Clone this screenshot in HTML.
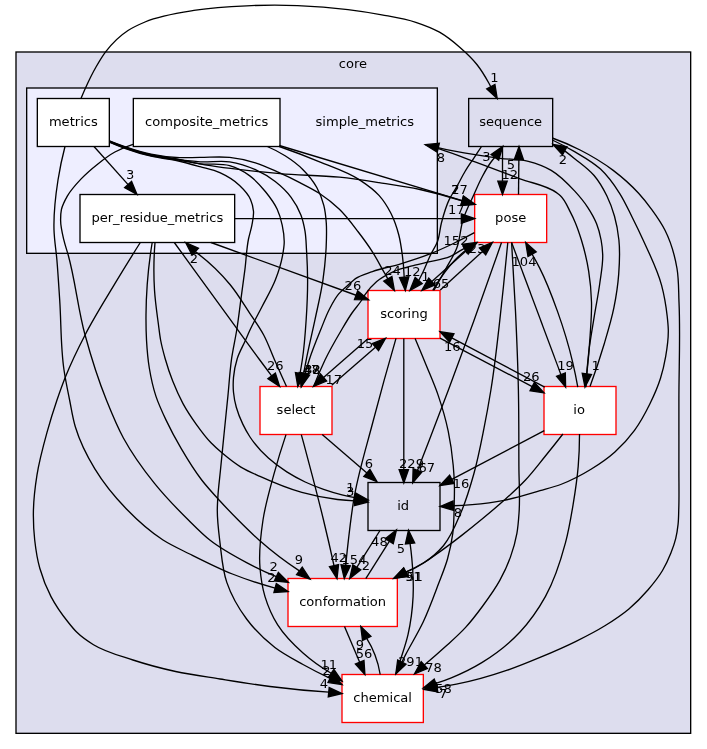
<!DOCTYPE html>
<html><head><meta charset="utf-8"><title>core/simple_metrics</title>
<style>html,body{margin:0;padding:0;background:#fff}svg{display:block}text{font-family:"DejaVu Sans", "Liberation Sans", sans-serif;font-size:13.07px;fill:#000}svg{will-change:transform}</style>
</head><body>
<svg width="707" height="749" viewBox="0 0 707 749">
<rect width="707" height="749" fill="#fff"/>
<rect x="16" y="52" width="674.67" height="681.33" fill="#ddddee" stroke="#000" stroke-width="1.333"/>
<text x="353" y="68" text-anchor="middle">core</text>
<rect x="26.67" y="88" width="410.67" height="165.33" fill="#eeeeff" stroke="#000" stroke-width="1.333"/>
<text x="364.8" y="126" text-anchor="middle">simple_metrics</text>

<rect x="37.33" y="98.5" width="72.00" height="48.00" fill="white" stroke="black" stroke-width="1.333"/>
<text x="73.33" y="126.00" text-anchor="middle">metrics</text>
<rect x="133.33" y="98.5" width="146.67" height="48.00" fill="white" stroke="black" stroke-width="1.333"/>
<text x="206.67" y="126.00" text-anchor="middle">composite_metrics</text>
<rect x="80" y="194.5" width="154.67" height="48.00" fill="white" stroke="black" stroke-width="1.333"/>
<text x="157.33" y="222.00" text-anchor="middle">per_residue_metrics</text>
<rect x="468.67" y="98.5" width="84.00" height="48.00" fill="none" stroke="black" stroke-width="1.333"/>
<text x="510.67" y="126.00" text-anchor="middle">sequence</text>
<rect x="474.67" y="194.5" width="72.00" height="48.00" fill="white" stroke="red" stroke-width="1.333"/>
<text x="510.67" y="222.00" text-anchor="middle">pose</text>
<rect x="368" y="290.5" width="72.00" height="48.00" fill="white" stroke="red" stroke-width="1.333"/>
<text x="404.00" y="318.00" text-anchor="middle">scoring</text>
<rect x="260" y="386.5" width="72.00" height="48.00" fill="white" stroke="red" stroke-width="1.333"/>
<text x="296.00" y="414.00" text-anchor="middle">select</text>
<rect x="544" y="386.5" width="72.00" height="48.00" fill="white" stroke="red" stroke-width="1.333"/>
<text x="579.10" y="414.00" text-anchor="middle">io</text>
<rect x="368" y="482.5" width="72.00" height="48.00" fill="none" stroke="black" stroke-width="1.333"/>
<text x="403.10" y="510.00" text-anchor="middle">id</text>
<rect x="288" y="578.5" width="109.33" height="48.00" fill="white" stroke="red" stroke-width="1.333"/>
<text x="342.66" y="606.00" text-anchor="middle">conformation</text>
<rect x="342" y="674.5" width="81.33" height="48.00" fill="white" stroke="red" stroke-width="1.333"/>
<text x="382.66" y="702.00" text-anchor="middle">chemical</text>
<g fill="none" stroke="#000" stroke-width="1.333">
<path d="M81.00,98.50C82.43,94.97 83.93,91.47 85.50,88.00C88.72,80.87 92.11,73.78 96.00,67.00C99.03,61.73 102.11,56.38 105.80,51.60C112.00,43.58 119.53,36.01 128.00,30.50C133.26,27.08 139.20,24.46 145.00,22.00C160.92,15.25 178.67,12.90 195.80,10.20C212.58,7.55 229.70,6.57 246.70,5.80C263.64,5.04 280.66,4.96 297.60,5.60C314.43,6.24 331.29,7.53 348.00,9.60C359.31,11.00 370.60,12.71 381.80,14.80C393.20,16.93 404.83,18.66 415.80,22.30C423.90,24.98 432.12,27.99 439.50,32.20C446.85,36.40 453.59,41.91 460.00,47.50C466.01,52.74 471.95,58.28 476.90,64.50C481.44,70.20 485.22,76.61 488.80,83.00C489.49,84.22 490.16,85.46 490.82,86.70"/>
<path d="M94.00,146.50L128.11,184.57"/>
<path d="M140.30,242.50C131.68,256.14 123.21,269.87 114.90,283.70C104.77,300.56 94.23,317.24 85.20,334.70C78.05,348.51 71.17,362.56 65.40,377.00C62.37,384.57 59.64,392.28 57.00,400.00C53.35,410.69 50.01,421.51 47.00,432.40C43.13,446.42 39.30,460.56 37.00,474.90C35.06,487.01 33.61,499.34 33.40,511.60C33.24,521.05 33.65,530.60 34.70,540.00C35.77,549.50 37.21,559.12 39.80,568.30C42.54,578.02 46.31,587.67 51.00,596.60C55.71,605.57 61.65,614.05 68.00,622.00C70.74,625.43 73.48,628.93 76.60,632.00C81.59,636.92 87.55,641.03 93.50,644.70C105.41,652.06 119.61,655.60 133.00,660.00C146.95,664.59 161.25,668.35 175.60,671.50C190.24,674.71 205.18,676.63 220.00,679.00C236.64,681.66 253.28,684.40 270.00,686.50C289.51,688.95 309.12,690.86 328.73,692.21"/>
<path d="M65.00,146.50C62.10,157.51 59.76,168.75 58.00,180.00C55.43,196.49 53.50,213.35 54.00,230.00C54.30,240.01 56.05,249.99 56.90,260.00C58.03,273.32 58.81,286.66 59.70,300.00C61.26,323.33 60.58,346.91 64.00,370.00C65.49,380.05 67.60,390.03 69.60,400.00C71.39,408.95 72.68,418.11 75.30,426.80C79.77,441.63 86.95,455.98 95.00,469.20C103.68,483.46 114.56,496.79 126.20,508.80C137.34,520.29 149.52,531.40 163.00,540.00C171.43,545.37 180.72,549.49 189.70,554.00C203.74,561.05 217.81,568.23 232.40,574.00C246.32,579.50 260.66,584.22 275.12,588.06"/>
<path d="M133.00,144.30C126.77,146.23 120.61,148.85 114.90,152.00C108.87,155.32 103.32,159.63 97.90,163.90C91.94,168.60 86.10,173.59 80.90,179.10C75.94,184.36 70.85,189.84 67.30,196.10C64.88,200.36 62.43,204.93 61.40,209.70C60.69,212.99 60.60,216.51 60.60,219.90C60.61,226.71 62.34,233.54 63.90,240.20C65.07,245.19 66.83,250.05 68.20,255.00C75.46,281.15 77.85,308.55 85.00,334.70C91.03,356.76 97.88,378.77 106.40,400.00C111.56,412.86 116.80,425.86 123.40,438.00C132.13,454.05 143.03,469.15 154.50,483.40C164.90,496.32 176.56,508.33 188.40,520.00C195.35,526.85 202.19,533.96 209.80,540.00C221.02,548.90 233.91,555.84 246.60,562.60C256.27,567.75 266.24,572.47 276.35,576.69"/>
<path d="M152.20,242.50C148.26,266.37 146.17,290.70 146.00,314.90C145.94,323.26 146.02,331.65 146.50,340.00C147.04,349.36 147.77,358.77 149.30,368.00C150.87,377.47 152.89,387.00 155.90,396.10C158.65,404.42 162.45,412.45 166.20,420.40C170.71,429.95 175.76,439.28 181.10,448.40C187.45,459.24 194.03,470.07 201.70,480.00C207.36,487.33 213.73,494.15 220.00,501.00C225.92,507.47 232.01,513.79 238.20,520.00C244.99,526.81 251.81,533.63 259.00,540.00C271.67,551.23 285.25,561.61 299.41,570.90"/>
<path d="M155.00,242.50C153.71,258.25 153.54,274.22 154.50,290.00C155.21,301.70 156.96,313.36 158.50,325.00C159.16,330.00 159.68,335.04 160.60,340.00C161.77,346.30 163.44,352.53 165.20,358.70C167.36,366.27 169.82,373.78 172.70,381.10C175.72,388.76 179.06,396.38 183.00,403.60C186.88,410.70 191.39,417.51 196.10,424.10C200.73,430.57 205.48,437.08 211.00,442.80C214.51,446.44 218.34,449.82 222.20,453.10C228.13,458.13 234.26,463.09 240.90,467.10C246.93,470.74 253.55,473.48 260.00,476.40C273.58,482.55 287.48,488.40 301.80,492.40C313.44,495.65 325.47,498.07 337.50,499.50C343.21,500.18 348.97,500.65 354.71,500.91"/>
<path d="M109.40,142.10C114.69,144.41 120.07,146.55 125.50,148.50C133.85,151.50 142.37,154.18 151.00,156.20C159.35,158.15 168.02,158.68 176.40,160.50C184.34,162.22 192.18,164.48 200.00,166.70C206.63,168.59 213.58,169.88 219.80,172.70C226.89,175.91 234.00,180.14 239.60,185.50C243.80,189.52 248.16,194.13 250.50,199.40C252.12,203.06 253.19,207.29 253.50,211.30C253.85,215.84 252.71,220.55 251.90,225.10C251.06,229.79 249.45,234.33 248.50,239.00C246.45,249.08 246.19,259.48 244.90,269.70C243.65,279.61 242.24,289.50 240.90,299.40C239.57,309.27 238.44,319.17 236.90,329.00C235.34,338.93 233.02,348.75 231.60,358.70C229.83,371.09 229.15,383.63 227.90,396.10C226.65,408.57 225.35,421.03 224.10,433.50C222.85,445.93 221.63,458.37 220.40,470.80C219.60,478.87 218.54,486.91 218.00,495.00C217.67,499.99 217.33,505.00 217.30,510.00C217.23,520.95 218.67,531.92 220.00,542.80C221.62,556.08 222.52,569.90 226.80,582.40C231.24,595.35 238.39,608.00 246.60,619.00C254.53,629.62 264.35,639.41 274.90,647.50C283.52,654.11 293.44,659.18 303.00,664.50C311.88,669.44 320.95,674.09 330.14,678.42"/>
<path d="M109.40,141.80C114.69,144.07 120.07,146.18 125.50,148.10C133.85,151.06 142.37,153.74 151.00,155.70C159.34,157.60 167.94,158.40 176.40,159.80C184.27,161.10 192.09,162.83 200.00,163.80C209.83,165.00 220.39,162.89 229.70,165.70C236.63,167.79 243.59,171.34 249.50,175.60C255.48,179.91 260.60,185.73 265.30,191.50C269.79,197.01 274.26,202.88 277.20,209.30C279.48,214.27 281.04,219.73 282.20,225.10C283.46,230.94 284.38,237.04 284.20,243.00C284.07,247.27 283.29,251.58 282.50,255.80C280.99,263.91 278.44,271.90 275.50,279.60C271.84,289.20 266.37,298.10 261.70,307.30C257.68,315.22 253.18,322.92 249.50,331.00C248.15,333.97 246.91,337.01 245.60,340.00C242.86,346.26 239.24,352.22 237.20,358.70C235.31,364.72 234.04,371.10 233.50,377.40C233.08,382.33 233.05,387.37 233.50,392.30C233.96,397.34 234.95,402.42 236.30,407.30C237.89,413.06 240.22,418.70 242.80,424.10C244.92,428.53 247.31,432.90 250.00,437.00C255.10,444.76 261.54,451.85 268.40,458.10C274.04,463.23 280.36,467.78 286.80,471.90C292.68,475.66 298.88,479.02 305.20,482.00C311.17,484.81 317.36,487.22 323.60,489.40C329.64,491.51 335.79,493.37 342.00,494.90C346.26,495.95 350.57,496.86 354.89,497.62"/>
<path d="M109.40,141.50C114.69,143.74 120.07,145.81 125.50,147.70C133.86,150.61 142.37,153.27 151.00,155.20C159.35,157.07 167.91,158.07 176.40,159.20C184.24,160.24 192.11,161.32 200.00,161.80C209.87,162.40 220.03,160.27 229.70,161.80C238.45,163.18 247.31,166.00 255.40,169.70C262.35,172.88 269.18,176.89 275.20,181.60C281.04,186.17 286.67,191.47 291.10,197.40C295.12,202.79 298.61,208.91 301.00,215.20C302.92,220.27 304.08,225.73 305.00,231.10C306.06,237.31 306.10,243.69 306.50,250.00C307.12,259.85 307.54,269.73 307.60,279.60C307.68,292.80 307.06,306.03 306.20,319.20C305.32,332.83 304.34,346.50 302.30,360.00C301.62,364.46 300.87,368.92 300.03,373.36"/>
<path d="M267.30,146.50C273.45,149.08 279.47,152.23 285.10,155.80C291.45,159.83 297.70,164.40 303.00,169.70C308.26,174.97 313.20,181.00 316.80,187.50C319.86,193.02 322.21,199.17 323.80,205.30C325.30,211.09 325.88,217.20 326.30,223.20C326.69,228.77 326.52,234.41 326.40,240.00C326.12,253.23 324.86,266.50 323.00,279.60C321.11,292.91 317.85,306.02 315.10,319.20C312.26,332.83 308.84,346.33 306.20,360.00C305.34,364.46 304.51,368.92 303.72,373.39"/>
<path d="M109.40,140.90C114.70,143.06 120.08,145.07 125.50,146.90C133.87,149.73 142.36,152.43 151.00,154.20C159.34,155.91 167.90,156.99 176.40,157.50C184.24,157.97 192.13,157.42 200.00,157.40C209.90,157.38 219.91,156.32 229.70,157.40C238.35,158.36 247.08,160.21 255.40,162.80C263.57,165.34 271.37,169.18 279.20,172.70C286.15,175.82 293.03,179.11 299.80,182.60C306.49,186.05 313.34,189.36 319.60,193.50C326.62,198.14 333.35,203.47 339.40,209.30C346.45,216.10 352.32,224.18 358.30,232.00C363.22,238.43 368.05,244.97 372.40,251.80C376.48,258.20 379.95,264.99 383.70,271.60C385.08,274.03 386.46,276.47 387.83,278.90"/>
<path d="M109.40,141.20C114.70,143.40 120.08,145.44 125.50,147.30C133.86,150.17 142.38,152.77 151.00,154.70C159.35,156.57 167.97,157.22 176.40,158.80C184.30,160.28 192.10,162.31 200.00,163.80C219.62,167.51 239.54,169.59 259.40,171.70C266.26,172.43 273.13,173.10 280.00,173.70C299.76,175.42 319.69,175.13 339.40,177.20C352.64,178.59 365.83,180.60 379.00,182.60C392.70,184.68 406.47,186.55 420.00,189.50C434.20,192.59 448.31,196.42 462.13,200.91"/>
<path d="M279.30,145.50L462.24,200.56"/>
<path d="M279.30,146.50C292.87,151.20 306.33,156.31 319.60,161.80C332.97,167.33 347.19,171.71 359.20,179.60C366.21,184.20 373.44,189.18 379.00,195.40C383.72,200.68 387.66,206.96 390.90,213.30C394.38,220.11 396.85,227.58 398.80,235.00C400.57,241.75 401.50,248.76 402.40,255.70C403.32,262.83 403.92,270.03 404.19,277.22"/>
<path d="M234.67,218.60L461.34,218.60"/>
<path d="M211.00,242.50L356.07,295.25"/>
<path d="M174.30,242.50C192.82,268.10 211.39,293.67 230.00,319.20C239.92,332.81 249.76,346.48 259.80,360.00C263.72,365.29 267.66,370.56 271.62,375.82"/>
<path d="M286.50,386.50C282.48,377.69 278.52,368.86 274.60,360.00C270.92,351.69 267.99,342.98 263.70,335.00C259.65,327.46 254.53,320.47 249.80,313.30C243.38,303.58 237.39,293.43 230.00,284.50C219.90,272.29 208.03,261.07 195.28,251.66"/>
<path d="M502.50,146.50L502.50,181.17"/>
<path d="M518.50,194.50L518.86,159.83"/>
<path d="M481.50,146.50C478.90,150.43 476.30,154.37 473.70,158.30C470.90,162.53 467.93,166.66 465.30,171.00C462.23,176.06 459.72,181.45 456.80,186.60C454.36,190.90 451.45,194.98 449.30,199.40C445.69,206.82 443.50,214.99 441.40,223.00C439.83,228.99 439.72,235.44 437.60,241.20C435.83,246.01 432.74,250.34 430.50,255.00C427.82,260.58 425.71,266.43 423.00,272.00C421.62,274.85 420.18,277.68 418.69,280.47"/>
<path d="M434.00,290.30C437.84,283.39 441.64,276.46 445.40,269.50C449.21,262.46 453.84,255.70 456.70,248.30C460.26,239.11 460.08,228.59 463.20,219.20C465.96,210.89 470.08,203.01 473.70,195.00C476.47,188.87 479.03,182.62 482.20,176.70C484.80,171.85 487.41,166.92 490.70,162.50C492.03,160.72 493.43,158.98 494.90,157.31"/>
<path d="M475.50,242.50L431.84,281.52"/>
<path d="M432.80,290.30C436.41,283.95 440.47,277.81 444.90,272.00C448.07,267.85 451.39,263.76 455.00,260.00C458.34,256.53 461.91,253.23 465.64,250.19"/>
<path d="M440.30,290.00L482.56,251.39"/>
<path d="M474.40,232.70C467.18,236.68 459.84,240.45 452.40,244.00C445.04,247.51 437.58,250.90 430.00,253.90C420.42,257.68 410.55,260.79 400.70,263.80C391.35,266.66 381.59,268.29 372.40,271.60C366.67,273.66 360.39,275.07 355.50,278.60C353.51,280.04 351.75,281.85 349.90,283.50C346.02,286.98 341.78,290.21 338.50,294.20C334.86,298.62 332.17,303.90 329.50,309.00C326.15,315.40 323.73,322.29 321.00,329.00C316.83,339.24 312.59,349.48 309.20,360.00C307.74,364.54 306.37,369.12 305.11,373.73"/>
<path d="M313.70,386.50C317.05,377.51 320.84,368.64 325.00,360.00C329.78,350.08 335.30,340.49 340.90,331.00C344.48,324.93 347.99,318.79 352.00,313.00C355.08,308.54 358.82,304.53 361.80,300.00C363.05,298.10 364.11,296.07 365.40,294.20C368.61,289.55 372.41,285.10 376.70,281.50C381.64,277.36 387.68,274.23 393.60,271.60C400.33,268.61 407.73,267.06 414.90,265.20C419.90,263.90 424.98,262.91 430.00,261.70C436.62,260.11 443.60,259.36 449.80,256.70C454.31,254.76 458.28,251.55 462.70,249.30C463.32,248.98 463.95,248.67 464.58,248.36"/>
<path d="M331.70,385.30L375.45,347.16"/>
<path d="M367.90,338.80L323.54,377.53"/>
<path d="M440.00,338.10L532.20,386.59"/>
<path d="M544.70,387.10L451.78,337.93"/>
<path d="M585.90,387.10C586.43,375.58 587.37,364.05 588.70,352.60C590.12,340.41 592.36,328.32 594.30,316.20C596.10,304.96 598.44,293.79 599.90,282.50C601.11,273.20 603.06,263.83 602.70,254.50C602.51,249.66 601.99,244.76 601.10,240.00C600.07,234.51 598.65,228.98 596.60,223.80C594.32,218.03 591.11,212.50 587.70,207.30C583.99,201.65 579.56,196.39 575.00,191.40C567.87,183.60 560.22,175.55 551.20,170.30C544.22,166.24 536.18,163.31 528.30,161.30C519.19,158.98 509.41,159.51 500.00,158.30C491.65,157.23 483.31,155.96 475.00,154.60C463.29,152.68 451.57,150.75 440.00,148.10C439.43,147.97 438.86,147.84 438.29,147.70"/>
<path d="M425.30,144.70C430.22,146.13 435.12,147.63 440.00,149.20C451.80,153.00 463.36,157.52 475.00,161.80C490.05,167.33 505.01,173.10 520.00,178.80C532.31,183.48 546.41,185.03 556.90,192.90C558.09,193.79 559.31,194.70 560.40,195.70C565.16,200.04 567.51,206.63 570.50,212.40C572.11,215.51 573.62,218.68 575.00,221.90C577.53,227.77 579.52,233.89 581.40,240.00C584.55,250.22 587.01,260.75 588.70,271.30C590.32,281.46 591.22,291.82 591.50,302.10C591.81,313.31 590.80,324.58 590.10,335.80C589.31,348.52 588.23,361.23 586.85,373.90"/>
<path d="M552.30,138.00C561.78,141.40 571.13,145.43 580.10,150.00C591.62,155.86 602.92,162.60 613.20,170.40C622.25,177.26 630.93,184.91 638.60,193.30C643.30,198.45 647.69,203.96 651.80,209.60C656.59,216.18 661.34,222.99 665.00,230.20C671.00,242.03 674.74,255.41 677.00,268.50C678.89,279.47 678.51,290.89 679.00,302.10C680.43,334.69 678.91,367.37 678.90,400.00C678.89,423.33 678.94,446.67 678.90,470.00C678.88,482.67 679.20,495.34 678.80,508.00C678.63,513.37 678.67,518.77 678.10,524.10C677.58,528.96 676.87,533.86 675.70,538.60C674.49,543.50 672.76,548.30 670.90,553.00C668.52,559.00 665.78,564.96 662.50,570.50C658.44,577.35 653.30,583.65 648.10,589.70C642.21,596.55 635.79,603.08 628.90,608.90C621.47,615.18 613.18,620.55 604.90,625.70C595.62,631.47 585.80,636.43 576.00,641.30C564.24,647.15 552.13,652.34 540.00,657.40C529.20,661.91 518.35,666.40 507.30,670.20C490.68,675.92 473.66,680.87 456.40,684.20C449.99,685.44 443.52,686.49 437.06,687.35"/>
<path d="M552.30,140.00C560.04,143.58 567.65,147.56 575.00,151.90C583.82,157.10 593.07,162.21 600.50,169.10C607.94,176.01 614.08,184.69 619.60,193.30C624.50,200.94 628.22,209.36 632.30,217.50C636.03,224.94 639.65,232.43 643.10,240.00C649.86,254.84 657.42,269.62 661.60,285.30C664.28,295.36 666.05,305.81 667.20,316.20C667.71,320.78 668.21,325.40 668.30,330.00C668.46,338.81 667.21,347.71 665.70,356.40C664.43,363.74 662.74,371.10 660.50,378.20C657.69,387.12 653.84,395.80 649.70,404.20C645.26,413.21 640.42,422.22 634.50,430.30C628.77,438.12 622.11,445.52 614.90,452.00C607.62,458.54 599.35,464.16 591.00,469.30C581.41,475.20 571.24,480.55 560.70,484.50C553.98,487.02 546.92,488.71 540.00,490.70C528.10,494.12 516.23,497.93 504.10,500.30C493.56,502.36 482.82,503.67 472.10,504.60C465.85,505.14 459.57,505.51 453.31,505.71"/>
<path d="M590.00,386.50C595.15,372.56 599.86,358.44 604.10,344.20C607.70,332.13 611.42,320.03 613.90,307.70C616.13,296.63 617.87,285.36 618.70,274.10C619.54,262.79 620.08,251.26 618.90,240.00C618.06,232.01 616.69,223.93 614.50,216.20C612.52,209.24 609.98,202.30 606.80,195.80C603.31,188.67 599.20,181.52 594.10,175.50C588.71,169.14 581.56,164.20 575.00,158.90C571.62,156.17 568.18,153.49 564.70,150.88"/>
<path d="M511.60,242.50L560.94,374.61"/>
<path d="M577.80,387.10C576.33,378.80 574.63,370.51 572.70,362.30C568.65,345.08 563.45,328.05 557.50,311.40C552.25,296.72 546.79,281.98 539.70,268.10C537.30,263.40 534.76,258.75 532.10,254.20"/>
<path d="M501.50,242.50C484.48,291.90 466.77,341.08 448.40,390.00C438.30,416.89 427.99,443.72 417.48,470.46"/>
<path d="M507.80,242.50C506.03,261.68 504.10,280.85 502.00,300.00C498.71,330.05 495.77,360.18 490.90,390.00C488.81,402.77 486.53,415.51 484.00,428.20C480.94,443.54 478.03,458.96 473.80,474.00C470.17,486.90 466.37,499.91 461.10,512.20C456.17,523.69 451.53,536.05 443.60,545.50C437.91,552.28 430.79,558.43 423.30,563.30C417.87,566.83 411.91,569.88 405.87,572.23"/>
<path d="M511.60,242.50C513.11,265.45 514.41,288.42 515.50,311.40C516.74,337.59 517.84,363.79 518.40,390.00C518.95,415.46 518.77,440.93 518.90,466.40C518.98,481.60 520.13,496.85 519.10,512.00C518.61,519.15 518.17,526.37 516.90,533.40C515.46,541.36 513.23,549.28 510.50,556.90C507.60,564.98 503.92,572.88 499.80,580.40C494.89,589.37 488.77,597.74 482.70,606.00C477.30,613.35 471.75,620.68 465.60,627.40C459.36,634.22 452.34,640.35 445.50,646.60C438.58,652.92 431.52,659.09 424.32,665.10"/>
<path d="M403.80,338.50L403.80,469.57"/>
<path d="M396.00,338.40C387.94,366.16 380.24,394.04 372.90,422.00C366.49,446.43 359.00,470.69 354.50,495.50C351.18,513.80 349.24,532.39 347.20,550.90C346.67,555.71 346.17,560.53 345.69,565.34"/>
<path d="M415.10,338.40C418.82,347.24 422.49,356.11 426.10,365.00C430.17,375.01 434.60,384.90 438.10,395.10C442.14,406.87 445.64,418.93 448.20,431.10C450.56,442.32 452.15,453.77 453.20,465.20C453.80,471.78 454.24,478.39 454.40,485.00C454.56,491.53 454.37,498.07 454.20,504.60C453.95,514.21 454.04,523.90 452.80,533.40C451.67,542.01 449.87,550.64 447.50,559.00C445.13,567.37 441.67,575.44 438.60,583.60C433.77,596.43 429.13,609.41 423.30,621.80C417.98,633.12 411.22,643.75 405.50,654.90C404.27,657.30 403.05,659.70 401.84,662.11"/>
<path d="M544.30,430.70L451.80,479.30"/>
<path d="M562.90,434.00C557.01,441.56 551.04,449.06 545.00,456.50C538.58,464.40 532.45,472.59 525.50,480.00C518.79,487.16 511.42,493.74 504.10,500.30C497.13,506.55 489.92,512.54 482.70,518.50C475.68,524.30 468.60,530.03 461.40,535.60C454.36,541.05 447.27,546.45 440.00,551.60C434.74,555.33 429.52,559.17 424.00,562.50C418.14,566.04 412.03,569.26 405.79,572.09"/>
<path d="M579.50,434.00C579.52,444.80 579.09,455.64 578.20,466.40C577.14,479.19 575.20,491.93 573.10,504.60C570.98,517.37 568.84,530.23 565.50,542.70C560.58,561.10 554.69,579.84 545.50,596.40C538.48,609.05 529.87,621.43 520.00,632.00C508.97,643.82 495.64,654.12 481.80,662.60C472.17,668.50 461.81,673.53 451.30,677.80C446.22,679.86 441.04,681.75 435.82,683.44"/>
<path d="M286.00,434.60C281.54,447.80 277.47,461.16 273.80,474.60C269.71,489.60 265.30,504.67 263.00,520.00C260.62,535.79 258.65,552.13 260.00,568.00C260.81,577.58 262.22,587.41 265.00,596.60C267.97,606.42 272.26,616.25 277.70,624.90C284.34,635.44 293.63,644.68 303.00,653.00C311.60,660.63 321.20,667.52 331.17,673.23"/>
<path d="M301.30,434.60C304.95,447.91 308.52,461.24 312.00,474.60C315.94,489.71 319.83,504.83 323.50,520.00C327.17,535.16 330.67,550.37 334.01,565.61"/>
<path d="M322.20,434.60L366.89,473.01"/>
<path d="M380.30,530.00L356.80,567.32"/>
<path d="M365.80,578.60L389.30,541.28"/>
<path d="M344.50,626.50L359.69,662.23"/>
<path d="M380.20,674.50C379.17,667.89 377.40,661.25 375.00,655.00C372.80,649.27 369.99,643.64 366.72,638.44"/>
<path d="M395.80,674.00C397.38,669.35 398.91,664.68 400.40,660.00C403.08,651.58 406.02,643.19 408.00,634.60C410.87,622.12 412.47,609.19 413.10,596.40C413.72,583.72 413.00,570.88 411.80,558.20C411.34,553.27 410.75,548.34 410.06,543.44"/>
</g>
<g fill="#000" stroke="#000" stroke-width="1.333">
<polygon points="497.20,98.40 486.72,88.93 494.92,84.46"/>
<polygon points="137.00,194.50 124.63,187.69 131.58,181.46"/>
<polygon points="342.00,693.50 328.28,696.86 329.18,687.56"/>
<polygon points="288.00,591.50 273.92,592.57 276.33,583.55"/>
<polygon points="288.40,582.40 274.35,580.91 278.35,572.47"/>
<polygon points="310.00,579.00 296.57,574.61 302.25,567.19"/>
<polygon points="368.00,502.00 354.33,505.57 355.10,496.26"/>
<polygon points="342.00,684.50 328.01,682.57 332.27,674.26"/>
<polygon points="368.00,500.00 354.05,502.21 355.72,493.02"/>
<polygon points="297.80,386.50 295.43,372.58 304.64,374.14"/>
<polygon points="301.30,386.50 299.13,372.54 308.32,374.24"/>
<polygon points="394.40,290.50 383.77,281.20 391.90,276.60"/>
<polygon points="475.00,204.40 460.91,205.42 463.35,196.41"/>
<polygon points="475.00,204.40 460.89,205.03 463.58,196.09"/>
<polygon points="405.30,290.50 399.54,277.60 408.85,276.83"/>
<polygon points="474.67,218.60 461.34,223.27 461.34,213.93"/>
<polygon points="368.60,299.80 354.48,299.63 357.67,290.86"/>
<polygon points="279.60,386.50 267.88,378.62 275.36,373.03"/>
<polygon points="185.60,242.50 198.49,248.27 192.07,255.05"/>
<polygon points="502.50,194.50 497.83,181.17 507.17,181.17"/>
<polygon points="519.00,146.50 523.53,159.88 514.19,159.78"/>
<polygon points="409.90,290.50 415.17,277.40 422.20,283.55"/>
<polygon points="502.70,146.50 498.69,160.04 491.11,154.58"/>
<polygon points="421.90,290.40 428.73,278.04 434.95,285.00"/>
<polygon points="476.80,242.90 468.19,254.10 463.09,246.28"/>
<polygon points="492.40,242.40 485.71,254.84 479.41,247.94"/>
<polygon points="301.30,386.50 300.63,372.39 309.58,375.06"/>
<polygon points="476.50,242.40 466.67,252.54 462.49,244.18"/>
<polygon points="385.50,338.40 378.52,350.68 372.38,343.64"/>
<polygon points="313.50,386.30 320.47,374.01 326.61,381.05"/>
<polygon points="544.00,392.80 530.03,390.73 534.38,382.46"/>
<polygon points="440.00,331.70 453.97,333.81 449.60,342.06"/>
<polygon points="425.30,144.70 439.34,143.15 437.23,152.25"/>
<polygon points="585.00,387.10 582.23,373.25 591.48,374.55"/>
<polygon points="423.90,689.50 436.30,682.75 437.81,691.96"/>
<polygon points="440.00,506.50 453.03,501.05 453.58,510.37"/>
<polygon points="553.00,144.50 566.94,146.78 562.47,154.98"/>
<polygon points="565.60,387.10 556.56,376.25 565.31,372.98"/>
<polygon points="525.70,242.50 536.19,251.95 528.00,256.44"/>
<polygon points="412.70,482.90 413.12,468.78 421.84,472.13"/>
<polygon points="394.00,578.30 403.74,568.07 407.99,576.38"/>
<polygon points="414.40,674.00 421.20,661.62 427.44,668.57"/>
<polygon points="403.80,482.90 399.13,469.57 408.47,469.57"/>
<polygon points="344.30,578.60 341.04,564.86 350.33,565.83"/>
<polygon points="395.80,674.00 397.67,660.00 406.00,664.23"/>
<polygon points="440.00,485.50 449.63,475.17 453.97,483.43"/>
<polygon points="394.00,578.30 403.62,567.96 407.97,576.22"/>
<polygon points="423.30,688.00 434.23,679.05 437.42,687.83"/>
<polygon points="342.00,681.00 328.45,677.02 333.90,669.43"/>
<polygon points="337.00,578.60 329.46,566.66 338.56,564.56"/>
<polygon points="377.00,481.70 363.85,476.55 369.93,469.47"/>
<polygon points="349.70,578.60 352.85,564.83 360.75,569.81"/>
<polygon points="396.40,530.00 393.25,543.77 385.35,538.79"/>
<polygon points="364.90,674.50 355.39,664.06 363.98,660.41"/>
<polygon points="360.80,626.50 370.91,636.37 362.54,640.52"/>
<polygon points="408.50,530.20 414.70,542.89 405.42,543.98"/>
</g>
<text x="494.5" y="82.40" text-anchor="middle">1</text>
<text x="130.2" y="179.20" text-anchor="middle">3</text>
<text x="324" y="687.70" text-anchor="middle">4</text>
<text x="271.5" y="581.90" text-anchor="middle">2</text>
<text x="273.7" y="571.40" text-anchor="middle">2</text>
<text x="299" y="564.40" text-anchor="middle">9</text>
<text x="350.2" y="495.90" text-anchor="middle">3</text>
<text x="326.4" y="675.20" text-anchor="middle">2</text>
<text x="350.4" y="492.10" text-anchor="middle">1</text>
<text x="311" y="373.70" text-anchor="middle">47</text>
<text x="312.5" y="373.70" text-anchor="middle">32</text>
<text x="392.5" y="274.50" text-anchor="middle">24</text>
<text x="459.6" y="193.70" text-anchor="middle">27</text>
<text x="455.5" y="193.70" text-anchor="middle">7</text>
<text x="412.3" y="276.40" text-anchor="middle">12</text>
<text x="456.2" y="213.50" text-anchor="middle">17</text>
<text x="352.9" y="289.90" text-anchor="middle">26</text>
<text x="275.2" y="370.40" text-anchor="middle">26</text>
<text x="194" y="263.40" text-anchor="middle">2</text>
<text x="509.8" y="178.90" text-anchor="middle">12</text>
<text x="510.8" y="168.90" text-anchor="middle">5</text>
<text x="425.5" y="281.40" text-anchor="middle">1</text>
<text x="486.3" y="160.70" text-anchor="middle">3</text>
<text x="441" y="288.30" text-anchor="middle">65</text>
<text x="477" y="252.90" text-anchor="middle">23</text>
<text x="311.8" y="373.70" text-anchor="middle">48</text>
<text x="456" y="245.40" text-anchor="middle">152</text>
<text x="365" y="348.20" text-anchor="middle">15</text>
<text x="333.7" y="384.30" text-anchor="middle">17</text>
<text x="531.3" y="381.00" text-anchor="middle">26</text>
<text x="452.3" y="350.90" text-anchor="middle">16</text>
<text x="441" y="161.90" text-anchor="middle">8</text>
<text x="595.7" y="370.30" text-anchor="middle">1</text>
<text x="443.1" y="697.90" text-anchor="middle">7</text>
<text x="458" y="516.90" text-anchor="middle">8</text>
<text x="562.8" y="164.30" text-anchor="middle">2</text>
<text x="565.6" y="369.60" text-anchor="middle">19</text>
<text x="524" y="266.10" text-anchor="middle">104</text>
<text x="426.7" y="471.90" text-anchor="middle">67</text>
<text x="413.2" y="580.70" text-anchor="middle">91</text>
<text x="433.5" y="672.40" text-anchor="middle">78</text>
<text x="411.5" y="468.00" text-anchor="middle">229</text>
<text x="354" y="563.70" text-anchor="middle">154</text>
<text x="410.5" y="665.90" text-anchor="middle">291</text>
<text x="461.1" y="488.40" text-anchor="middle">16</text>
<text x="414.6" y="580.70" text-anchor="middle">51</text>
<text x="443.6" y="692.70" text-anchor="middle">58</text>
<text x="328.7" y="669.10" text-anchor="middle">11</text>
<text x="338.7" y="562.00" text-anchor="middle">42</text>
<text x="368.8" y="467.90" text-anchor="middle">6</text>
<text x="365.8" y="569.60" text-anchor="middle">2</text>
<text x="379.4" y="545.90" text-anchor="middle">48</text>
<text x="364" y="658.20" text-anchor="middle">56</text>
<text x="360" y="649.20" text-anchor="middle">9</text>
<text x="401" y="552.90" text-anchor="middle">5</text>
</svg></body></html>
